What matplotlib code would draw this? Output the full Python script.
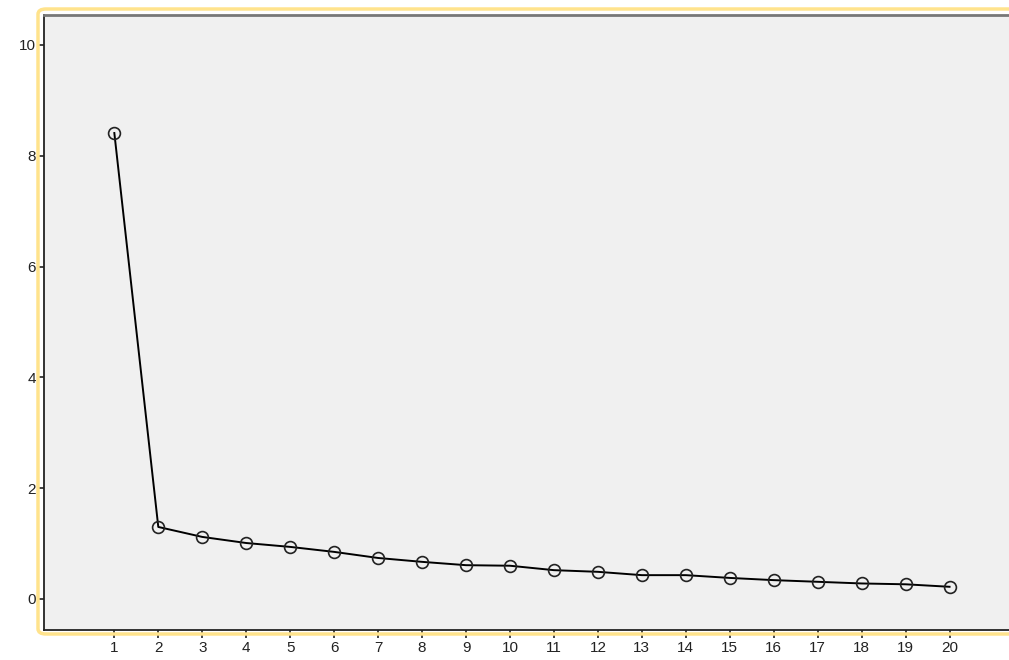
import matplotlib
matplotlib.use('Agg')
import matplotlib.pyplot as plt
from matplotlib.patches import FancyBboxPatch

# scree plot values (eigenvalue per component)
components = list(range(1, 21))
eigenvalues = [8.41, 1.30, 1.12, 1.01, 0.94, 0.85, 0.74, 0.67, 0.61, 0.60,
               0.52, 0.49, 0.43, 0.43, 0.38, 0.34, 0.31, 0.28, 0.265, 0.22]
y_ticks = [0, 2, 4, 6, 8, 10]

plt.rcParams['font.family'] = ['Liberation Sans', 'DejaVu Sans']

W, H = 1009, 660
fig = plt.figure(figsize=(W / 100, H / 100), dpi=100)
fig.patch.set_facecolor('white')

# yellow frame around the chart
frame = FancyBboxPatch((38 / W, (H - 634) / H), 1.2, (634 - 9) / H,
                       boxstyle='round,pad=0,rounding_size=0.008',
                       transform=fig.transFigure, facecolor='none',
                       edgecolor='#FFE38C', linewidth=2.5, zorder=0)
fig.patches.append(frame)

ax = fig.add_axes([44 / W, (H - 630) / H, (W - 44) / W + 0.05, (630 - 15) / H])
ax.set_facecolor('#F0F0F0')

ax.plot(components, eigenvalues, color='black', linewidth=1.4,
        marker='o', markersize=8.5, markerfacecolor='none',
        markeredgecolor='#222222', markeredgewidth=1.2, clip_on=False)

ax.set_xlim(-0.6, 22.5)
ax.set_ylim(-0.56, 10.54)
ax.set_xticks(components)
ax.set_yticks(y_ticks)
ax.tick_params(axis='both', direction='out', length=6, width=1.3,
               color='#333333', labelsize=11, labelcolor='#222222', pad=2)
ax.tick_params(axis='y', length=5, pad=1)

for side in ['left', 'bottom']:
    ax.spines[side].set_color('#222222')
    ax.spines[side].set_linewidth(1.3)
ax.spines['top'].set_color('#777777')
ax.spines['top'].set_linewidth(2)
ax.spines['right'].set_visible(False)

fig.savefig('out.png', dpi=100)
